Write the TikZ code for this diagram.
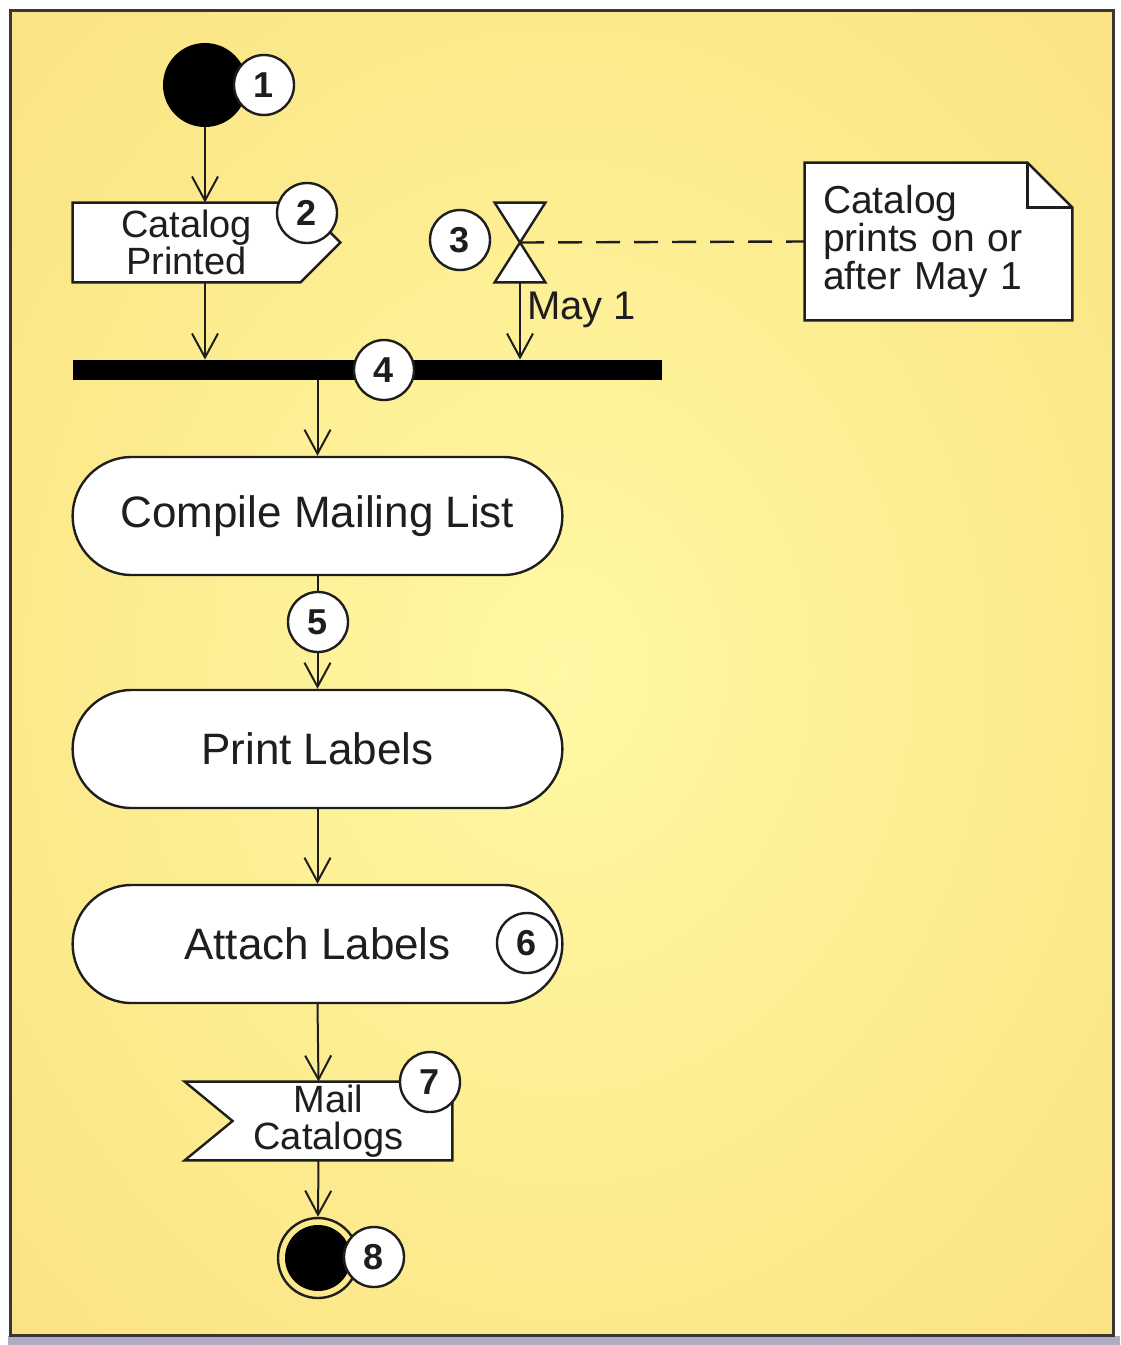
\documentclass[tikz,border=0pt]{standalone}
\usepackage{fontspec}
\setmainfont{Liberation Sans}
\usetikzlibrary{arrows.meta,shapes.misc,calc}
\definecolor{bgin}{HTML}{FFF8A4}
\definecolor{bgmid}{HTML}{FCEB8E}
\definecolor{bgout}{HTML}{F8DA76}
\definecolor{ink}{HTML}{1E1E1E}
\definecolor{framec}{HTML}{3A3434}
\definecolor{strip}{HTML}{B0ACC4}
\pgfdeclareradialshading{bgshade}{\pgfpoint{0bp}{0bp}}{color(0bp)=(bgin); color(22bp)=(bgmid); color(50bp)=(bgout); color(71bp)=(bgout)}
\pgfdeclarelayer{back}
\pgfdeclarelayer{mid}
\pgfsetlayers{back,mid,main}
\begin{document}
\begin{tikzpicture}[x=0.5pt,y=-0.5pt,
  arr/.style={line width=1pt, draw=ink, -{Straight Barb[length=12pt,width=13pt,line width=1pt]}},
  badge/.style={circle, draw=ink, line width=1.2pt, fill=white, minimum size=30pt, inner sep=0pt, text=ink, font=\fontsize{18}{18}\selectfont\bfseries},
  action/.style={rounded rectangle, draw=ink, line width=1.2pt, fill=white, minimum width=251.5pt, minimum height=59pt, text=ink, font=\fontsize{22}{26}\selectfont},
  small/.style={text=ink, font=\fontsize{19.5}{17.5}\selectfont},
  twoline/.style={text=ink, font=\fontsize{19}{18.5}\selectfont},
  shapebox/.style={draw=none, inner sep=0pt, twoline, align=center},
  outline/.style={draw=ink, line width=1.2pt, fill=white}
]
\useasboundingbox (0,0) rectangle (1120,1345);
\begin{pgfonlayer}{back}
\fill[white] (0,0) rectangle (1120,1345);
\fill[strip] (8,1336) rectangle (1120,1345);
\shade[shading=bgshade] (10,10) rectangle (1113,1335);
\draw[line width=1.5pt, draw=framec] (10,10) rectangle (1113,1335);
\end{pgfonlayer}

% initial node
\node[circle, fill=black, minimum size=42pt, inner sep=0pt] (start) at (205,85) {};

% Catalog Printed (send signal)
\node[shapebox, minimum width=113.5pt, minimum height=39.5pt] (cp) at (186.5,242.5) {Catalog\\Printed};
\begin{pgfonlayer}{mid}
\filldraw[outline] (cp.north west) -- (cp.north east) -- ($(cp.east)+(40,0)$) -- (cp.south east) -- (cp.south west) -- cycle;
\end{pgfonlayer}

% time event
\node[draw=none, minimum width=25pt, minimum height=39.5pt, inner sep=0pt] (hg) at (520,242.5) {};
\begin{pgfonlayer}{mid}
\filldraw[outline, line join=miter] (hg.north west) -- (hg.north east) -- (hg.south west) -- (hg.south east) -- cycle;
\end{pgfonlayer}

% note
\node[draw=none, minimum width=133.5pt, minimum height=78.5pt, text width=115.5pt, inner sep=9pt, align=left, small] (note) at (938.5,241.5) {Catalog\\prints on or\\after May 1};
\begin{pgfonlayer}{mid}
\filldraw[outline] (note.north west) -- ($(note.north east)+(-45,0)$) -- ($(note.north east)+(0,45)$) -- (note.south east) -- (note.south west) -- cycle;
\draw[draw=ink, line width=1.2pt] ($(note.north east)+(-45,0)$) |- ($(note.north east)+(0,45)$);
\end{pgfonlayer}

% fork/join bar
\node[fill=black, minimum width=294.5pt, minimum height=10pt, inner sep=0pt] (bar) at (367.5,370) {};

% actions
\node[action] (cml) at (317.5,516) {Compile Mailing List};
\node[action] (pl) at (317.5,749) {Print Labels};
\node[action] (al) at (317.5,944) {Attach Labels};

% Mail Catalogs (accept event)
\node[shapebox, minimum width=133.5pt, minimum height=39pt] (mc) at (318.5,1121) {\hspace*{10pt}Mail\\\hspace*{10pt}Catalogs};
\begin{pgfonlayer}{mid}
\filldraw[outline] (mc.north west) -- (mc.north east) -- (mc.south east) -- (mc.south west) -- ($(mc.west)+(48,0)$) -- cycle;
\end{pgfonlayer}

% final node
\node[circle, draw=ink, line width=1.2pt, minimum size=40pt, inner sep=0pt] (end) at (318,1258) {};
\fill[black] (end.center) circle (16.5pt);

% connectors
\draw[arr] (start) -- (start |- cp.north);
\draw[arr] (cp.south -| start) -- (bar.north -| start);
\draw[arr] (hg.south) -- (bar.north -| hg.south) node[pos=0.36, anchor=west, inner sep=3pt, small, font=\fontsize{20}{20}\selectfont] {May 1};
\draw[line width=1.2pt, draw=ink, dashed, dash pattern=on 12pt off 7pt] (hg.center) -- (note.west);
\draw[arr] (bar.south -| cml.north) -- (cml.north);
\draw[arr] (cml.south) -- (pl.north);
\draw[arr] (pl.south) -- (al.north);
\draw[arr] (al.south) -- (mc.north);
\draw[arr] (mc.south) -- (end.north);

% badges
\node[badge] (b1) at (264,85) {1};
\node[badge] (b2) at (307,213) {2};
\node[badge] (b3) at (460,240) {3};
\node[badge] (b4) at (384,370) {4};
\node[badge] (b5) at (318,622) {5};
\node[badge] (b6) at (527,943) {6};
\node[badge] (b7) at (430,1082) {7};
\node[badge] (b8) at (374,1257) {8};
\end{tikzpicture}
\end{document}
